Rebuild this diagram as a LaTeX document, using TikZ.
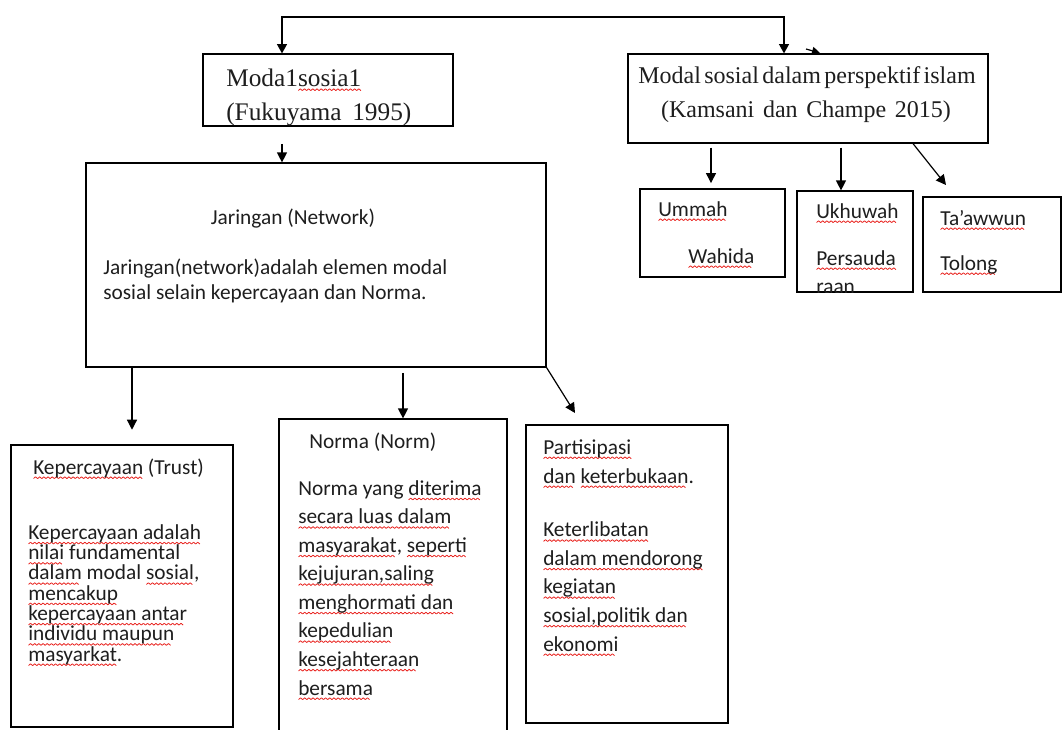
\documentclass[tikz,border=0pt]{standalone}
\usepackage{fontspec}
\setmainfont{Carlito}
\newfontfamily\serifword{Liberation Serif}
\usepackage{graphicx}
\usetikzlibrary{arrows.meta,positioning,fit}
\definecolor{spellRed}{HTML}{E8201C}
\definecolor{inkGray}{HTML}{1E1E1E}
% red spell-check wave under a word
\newsavebox{\spellbox}
\newcommand{\zigzag}{\hbox{\rotatebox{40}{\rule{2pt}{0.6pt}}\kern-0.35pt\raisebox{1.2pt}{\rotatebox{-40}{\rule{2pt}{0.6pt}}}\kern-0.35pt}}
\newcommand{\spell}[1]{\sbox{\spellbox}{#1}\rlap{\color{spellRed}\raisebox{-3.6pt}{\hbox to \wd\spellbox{\leaders\zigzag\hfill}}}\usebox{\spellbox}}

\tikzset{
  box/.style={draw, line width=0.9pt, inner sep=0pt},
  txt/.style={anchor=base west, inner sep=0pt, align=left, text=inkGray},
  serifTxt/.style={inner sep=0pt, text=inkGray, font=\serifword\fontsize{18}{21}\selectfont},
  link/.style={line width=0.9pt, -{Triangle[width=7.5pt,length=7.5pt]}},
  twoWay/.style={line width=0.9pt, {Triangle[width=7.5pt,length=7pt]}-{Triangle[width=7.5pt,length=7pt]}},
}

\begin{document}
\begin{tikzpicture}[x=0.75pt, y=-0.75pt, every node/.style={font=\fontsize{16}{20}\selectfont}]
  \useasboundingbox (0,0) rectangle (1063,729);

  % top level
  \node[box, fit={(203,54) (453,126)}] (modal) {};
  \node[box, fit={(628,54) (988,143)}] (islam) {};
  \node[serifTxt, anchor=base west, font=\serifword\fontsize{19}{21}\selectfont] (modalA) at (226,86) {Moda1\spell{sosia1}};
  \node[serifTxt, anchor=base west, font=\serifword\fontsize{19}{21}\selectfont] (modalB) at (226,120) {(Fukuyama\hspace{8pt}1995)};
  \node[serifTxt, anchor=base] (islamA) at (807,83) {\spaceskip=0.14em Modal sosial dalam perspektif islam};
  \node[serifTxt, anchor=base] (islamB) at (806,117) {\spaceskip=0.36em (Kamsani dan Champe 2015)};

  \coordinate (tl) at (282,17);
  \coordinate (tr) at (784,17);
  \draw[twoWay] (tl |- modal.north) -- (tl) -- (tr) -- (tr |- islam.north);
  \coordinate (stray) at (806,49);
  \draw[-{Triangle[width=6pt,length=6pt]}, line width=0.9pt] (stray) -- ++(14,4);

  % islam branch
  \node[box, fit={(640,189) (785,277)}] (ummah) {};
  \node[box, fit={(797,191) (913,292)}] (ukhuwah) {};
  \node[box, fit={(923,197) (1061,292)}] (taawun) {};
  \node[txt] (ummahA) at (658,216) {\spell{Ummah}};
  \node[txt] (ummahB) at (688,263) {\spell{Wahida}};
  \node[txt] (ukhuwahA) at (816,218) {\spell{Ukhuwah}};
  \node[txt] (ukhuwahB) at (816,265) {\spell{Persauda}};
  \begin{scope}
    \clip (797,191) rectangle (913,292);
    \node[txt] (ukhuwahC) at (816,293) {raan};
  \end{scope}
  \node[txt] (taawunA) at (940,225) {\spell{Ta’awwun}};
  \node[txt] (taawunB) at (940,270) {\spell{Tolong}};

  \coordinate (c1) at (711,0);
  \coordinate (c2) at (841,0);
  \coordinate (c3) at (913,0);
  \coordinate (tip3) at (946,185);
  \draw[link, shorten <=3pt, shorten >=4pt] (c1 |- islam.south) -- (c1 |- ummah.north);
  \draw[link, shorten <=3pt] (c2 |- islam.south) -- (c2 |- ukhuwah.north);
  \draw[link] (c3 |- islam.south) -- (tip3);

  % Fukuyama branch (multi-line nodes sit on their last baseline)
  \node[box, fit={(86,163) (546,367)}] (net) {};
  \node[anchor=base, inner sep=0pt, text=inkGray] (netA) at (293,224) {Jaringan (Network)};
  \node[txt, font=\fontsize{16}{18.75}\selectfont] (netB) at (103,299)
    {Jaringan(network)adalah elemen modal\\sosial selain kepercayaan dan Norma.};
  \coordinate (d0) at (282,0);
  \draw[link, shorten <=13pt] (d0 |- modal.south) -- (d0 |- net.north);

  \node[box, fit={(11,445) (233,727)}] (trust) {};
  \node[box, fit={(279,419) (507,745)}] (norm) {};
  \node[box, fit={(526,425) (728,723)}] (part) {};

  \node[txt] (trustA) at (33,474) {\spell{Kepercayaan} (Trust)};
  \node[txt, font=\fontsize{16}{15.2}\selectfont] (trustB) at (28,661)
    {\spell{Kepercayaan adalah}\\\spell{nilai} fundamental\\\spell{dalam} modal \spell{sosial},\\\spell{mencakup}\\\spell{kepercayaan antar}\\\spell{individu maupun}\\\spell{masyarkat}.};
  \node[txt] (normA) at (309,448) {Norma (Norm)};
  \node[txt, font=\fontsize{16}{21.4}\selectfont] (normB) at (298,695)
    {Norma yang \spell{diterima}\\\spell{secara luas dalam}\\\spell{masyarakat}, \spell{seperti}\\\spell{kejujuran,saling}\\\spell{menghormati dan}\\\spell{kepedulian}\\\spell{kesejahteraan}\\\spell{bersama}};
  \node[txt, font=\fontsize{16}{21.7}\selectfont] (partA) at (543,483)
    {\spell{Partisipasi}\\\spell{dan} \spell{keterbukaan}.};
  \node[txt, font=\fontsize{16}{21.4}\selectfont] (partB) at (543,651)
    {\spell{Keterlibatan}\\\spell{dalam mendorong}\\\spell{kegiatan}\\\spell{sosial,politik dan}\\\spell{ekonomi}};

  \coordinate (e1) at (132,0);
  \coordinate (e2) at (403,0);
  \coordinate (tip6) at (575,413);
  \draw[link, shorten >=11pt] (e1 |- net.south) -- (e1 |- trust.north);
  \draw[link, shorten <=4pt] (e2 |- net.south) -- (e2 |- norm.north);
  \draw[link] (net.south east) -- (tip6);
\end{tikzpicture}
\end{document}
